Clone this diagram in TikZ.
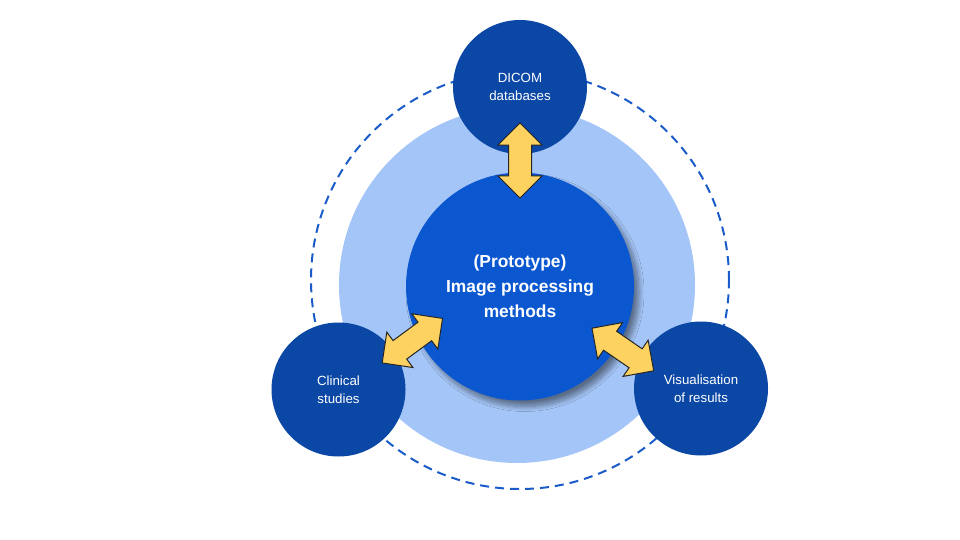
\documentclass[tikz,border=0pt]{standalone}
\usepackage{fontspec}
\setmainfont{Liberation Sans}
\usetikzlibrary{shapes.arrows,shadows.blur,calc}
\definecolor{darkblue}{HTML}{0B47A5}
\definecolor{mainblue}{HTML}{0B57D0}
\definecolor{lightblue}{HTML}{A4C5F7}
\definecolor{dashblue}{HTML}{1A5BC8}
\definecolor{arrowyellow}{HTML}{FDD260}
\tikzset{
  outerbox/.style={circle, fill=darkblue, minimum size=134pt, inner sep=0pt,
    text=white, font=\fontsize{13.3pt}{18.5pt}\selectfont, align=center},
  mainbox/.style={circle, fill=mainblue, minimum size=228pt, inner sep=0pt,
    text=white, font=\bfseries\fontsize{17.4pt}{25pt}\selectfont, align=center,
    blur shadow={shadow xshift=5pt, shadow yshift=-6pt, shadow blur radius=5pt,
      shadow blur steps=12, shadow opacity=45}},
  ring/.style={circle, draw=dashblue, line width=2pt, dash pattern=on 9pt off 6pt,
    minimum size=418pt, inner sep=0pt},
  halo/.style={circle, fill=lightblue, minimum size=356pt, inner sep=0pt},
  darrow/.style={double arrow, fill=arrowyellow, draw=black!85, line width=1pt,
    minimum height=75pt, minimum width=42pt, double arrow head extend=10.5pt,
    inner xsep=0pt, inner ysep=11pt, double arrow tip angle=90}
}
\begin{document}
\begin{tikzpicture}[x=1pt,y=-1pt]
\useasboundingbox (0,0) rectangle (960,540);
\node[ring] (ring) at (520,280) {};
\node[halo] (halo) at (517,285) {};
\node[outerbox] (dicom) at (520,87) {DICOM\\databases};
\node[outerbox] (clin) at (338.5,389.5) {Clinical\\studies};
\node[outerbox] (vis) at (701,388.5) {Visualisation\\of results};
\node[mainbox] (main) at (520,286.5) {(Prototype)\\Image processing\\methods};
% arrows
\coordinate (a1s) at (520,123);
\coordinate (a1e) at (520,198);
\coordinate (a2s) at (381.7,363.3);
\coordinate (a2e) at (443,318);
\coordinate (a3s) at (591.7,328);
\coordinate (a3e) at (654,371);
\node[darrow, rotate=90] (arr1) at ($(a1s)!0.5!(a1e)$) {};
\node[darrow, rotate=36.4] (arr2) at ($(a2s)!0.5!(a2e)$) {};
\node[darrow, rotate=-34.6] (arr3) at ($(a3s)!0.5!(a3e)$) {};
\end{tikzpicture}
\end{document}
